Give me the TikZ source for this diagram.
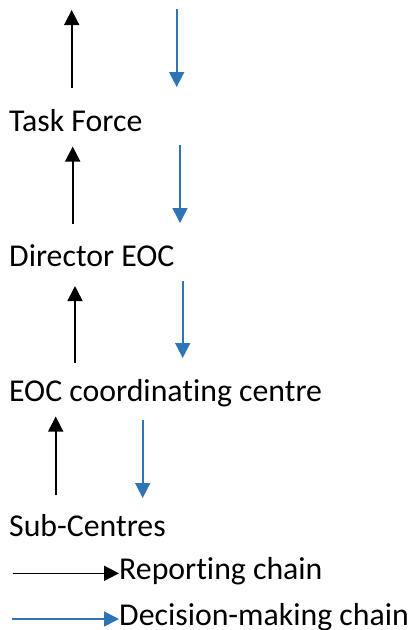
\documentclass[tikz,border=0pt]{standalone}
\usepackage{fontspec}
\setmainfont{Carlito}[Ligatures=CommonOff]
\usetikzlibrary{arrows.meta}
\definecolor{chainblue}{RGB}{46,117,182}
\tikzset{
  lbl/.style={anchor=base west, inner sep=0pt, font=\fontsize{31.8}{36}\selectfont},
  rep/.style={draw=black, line width=1.6pt, -{Triangle[length=15pt,width=15pt]}},
  dec/.style={draw=chainblue, line width=1.6pt, -{Triangle[length=15pt,width=15pt]}}
}
\begin{document}
\begin{tikzpicture}[x=1pt,y=-1pt]
\useasboundingbox (0,0) rectangle (413,630);
% labels
\node[lbl] (tf)  at (9,131) {Task Force};
\node[lbl] (dir) at (9,266) {Director EOC};
\node[lbl] (eoc) at (9,401.5) {EOC coordinating centre};
\node[lbl] (sub) at (9,536.5) {Sub-Centres};
\node[lbl] (lr)  at (119,579.5) {Reporting chain};
\node[lbl] (ld)  at (119,625) {Decision-making chain};
% arrow end points
\coordinate (r0a) at (71.7,88);  \coordinate (r0b) at (71.7,10);
\coordinate (d0a) at (176.7,9);  \coordinate (d0b) at (176.7,87);
\coordinate (r1a) at (72.7,224); \coordinate (r1b) at (72.7,146.5);
\coordinate (d1a) at (180,145);  \coordinate (d1b) at (180,223);
\coordinate (r2a) at (75,363);   \coordinate (r2b) at (75,286);
\coordinate (d2a) at (182.7,281);\coordinate (d2b) at (182.7,358);
\coordinate (r3a) at (55.7,495); \coordinate (r3b) at (55.7,416.5);
\coordinate (d3a) at (142.7,420);\coordinate (d3b) at (142.7,498);
\coordinate (lra) at (12.7,573.3);
\coordinate (lda) at (11.7,619);
% reporting (up) arrows
\draw[rep] (r0a) -- (r0b);
\draw[rep] (r1a) -- (r1b);
\draw[rep] (r2a) -- (r2b);
\draw[rep] (r3a) -- (r3b);
% decision (down) arrows
\draw[dec] (d0a) -- (d0b);
\draw[dec] (d1a) -- (d1b);
\draw[dec] (d2a) -- (d2b);
\draw[dec] (d3a) -- (d3b);
% legend
\draw[rep] (lra) -- (lra -| lr.west);
\draw[dec] (lda) -- (lda -| ld.west);
\end{tikzpicture}
\end{document}
